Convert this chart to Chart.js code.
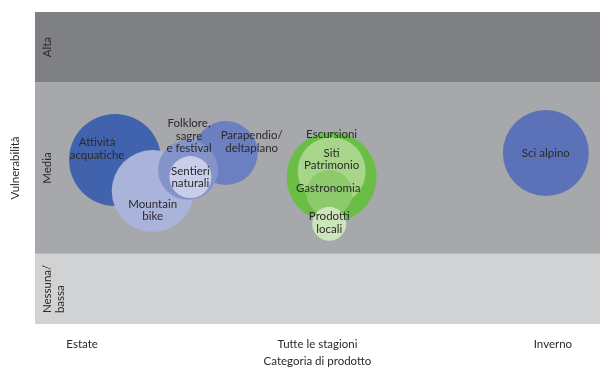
<!DOCTYPE html>
<html>
<head>
<meta charset="utf-8">
<script src="https://cdn.jsdelivr.net/npm/chart.js@4/dist/chart.umd.min.js"></script>
<style>
  html, body { margin: 0; padding: 0; background: #fff; }
</style>
</head>
<body>
<canvas id="chart" width="601" height="368"></canvas>
<script>
// --- data ---
const products = [
  'Attività\nacquatiche', 'Mountain\nbike', 'Parapendio/\ndeltaplano', 'Folklore,\nsagre\ne festival',
  'Sentieri\nnaturali', 'Escursioni', 'Siti\nPatrimonio', 'Gastronomia', 'Prodotti\nlocali', 'Sci alpino'
];
const seasonValue = [1.14, 1.30, 1.61, 1.45, 1.46, 2.06, 2.06, 2.05, 2.05, 2.97];
const vulnerability = [5.26, 4.26, 5.48, 4.94, 4.71, 4.71, 4.90, 4.20, 3.21, 5.48];
const bubbleSize = [46, 41, 32, 30, 21, 45, 34, 23, 17, 43];

const seasonTicks = ['Estate', 'Tutte le stagioni', 'Inverno'];
const bandLabels = ['Nessuna/\nbassa', 'Media', 'Alta'];
const bandLimits = [0, 2.25, 7.75, 10];

// --- styling ---
const bubbleColors = ['#4163ae', '#aab3da', '#6c7fc0', '#8593cb', '#c9cde9',
                      '#6abd45', '#a7d68b', '#8dca6c', '#cde6b9', '#5b72b8'];
const labelOffsets = [[-18, -11], [0, 19], [26, -11], [1, -34], [0, 0],
                      [0, -43], [0, -12], [-1, -5], [0, -1], [0, 0]];
const bandColors = ['#d1d2d4', '#a7a8ab', '#7f8083'];
const FONT = 'Lato, sans-serif';
const TEXT = '#2a2a2a';

function drawLines(ctx, text, x, y, lineH) {
  const lines = text.split('\n');
  const top = y - (lines.length - 1) * lineH / 2;
  lines.forEach((l, i) => ctx.fillText(l, x, top + i * lineH));
}

// background bands + rotated band names
const bandsPlugin = {
  id: 'bands',
  beforeDatasetsDraw(chart) {
    const { ctx, chartArea: a, scales: { y } } = chart;
    ctx.save();
    bandLabels.forEach((name, i) => {
      const yTop = y.getPixelForValue(bandLimits[i + 1]);
      const yBot = y.getPixelForValue(bandLimits[i]);
      ctx.fillStyle = bandColors[i];
      ctx.fillRect(a.left, yTop, a.right - a.left, yBot - yTop);

      const lines = name.split('\n');
      ctx.save();
      ctx.translate(a.left + 12.5, (yTop + yBot) / 2);
      ctx.rotate(-Math.PI / 2);
      ctx.font = '11.5px ' + FONT;
      ctx.fillStyle = TEXT;
      ctx.textBaseline = 'middle';
      const w = Math.max(...lines.map(l => ctx.measureText(l).width));
      ctx.textAlign = 'left';
      lines.forEach((l, k) => ctx.fillText(l, -w / 2, k * 13));
      ctx.restore();
    });
    ctx.restore();
  }
};

// text inside the bubbles
const bubbleLabels = {
  id: 'bubbleLabels',
  afterDatasetsDraw(chart) {
    const { ctx, scales: { x, y } } = chart;
    ctx.save();
    ctx.font = '11.5px ' + FONT;
    ctx.fillStyle = TEXT;
    ctx.textAlign = 'center';
    ctx.textBaseline = 'middle';
    products.forEach((p, i) => {
      const px = x.getPixelForValue(seasonValue[i]) + labelOffsets[i][0];
      const py = y.getPixelForValue(vulnerability[i]) + labelOffsets[i][1];
      drawLines(ctx, p, px, py, 12.5);
    });
    ctx.restore();
  }
};

new Chart(document.getElementById('chart').getContext('2d'), {
  type: 'bubble',
  data: {
    datasets: [{
      data: products.map((p, i) => ({ x: seasonValue[i], y: vulnerability[i], r: bubbleSize[i] })),
      backgroundColor: bubbleColors,
      borderWidth: 0,
      hoverBorderWidth: 0
    }]
  },
  options: {
    responsive: false,
    animation: false,
    devicePixelRatio: 1,
    layout: { autoPadding: false, padding: { top: 12, right: 1, left: 0, bottom: 0 } },
    plugins: { legend: { display: false }, tooltip: { enabled: false } },
    scales: {
      x: {
        type: 'linear',
        min: 0.8,
        max: 3.2,
        afterBuildTicks: s => { s.ticks = seasonTicks.map((t, i) => ({ value: i + 1 })); },
        afterFit: s => { s.height = 44; },
        grid: { display: false, drawTicks: false },
        border: { display: false },
        ticks: {
          callback: v => seasonTicks[v - 1],
          color: TEXT,
          font: { family: FONT, size: 11.5 },
          padding: 13,
          maxRotation: 0
        },
        title: {
          display: true,
          text: 'Categoria di prodotto',
          color: TEXT,
          font: { family: FONT, size: 11.5 },
          padding: 0
        }
      },
      y: {
        min: 0,
        max: 10,
        afterFit: s => { s.width = 35; },
        grid: { display: false, drawTicks: false },
        border: { display: false },
        ticks: { display: false },
        title: {
          display: true,
          text: 'Vulnerabilità',
          color: TEXT,
          font: { family: FONT, size: 11.5 },
          padding: { top: 8, bottom: 0 }
        }
      }
    }
  },
  plugins: [bandsPlugin, bubbleLabels]
});
</script>
</body>
</html>
